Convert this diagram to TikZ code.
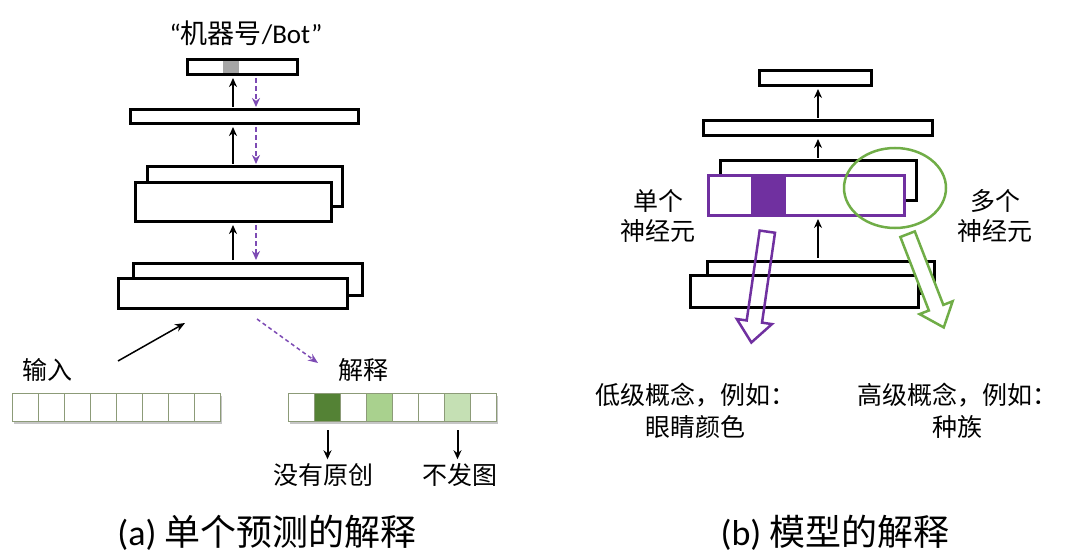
\documentclass[tikz,border=0pt]{standalone}
\usepackage{fontspec}
\setmainfont{Noto Sans CJK SC}
\newfontfamily\latin{Carlito}
\usetikzlibrary{arrows.meta,shapes.geometric,shapes.arrows,shadows}
\definecolor{plum}{RGB}{112,48,160}
\definecolor{lilac}{RGB}{125,75,180}
\definecolor{fern}{RGB}{112,173,71}
\definecolor{moss}{RGB}{84,130,53}
\definecolor{sage}{RGB}{169,209,142}
\definecolor{mint}{RGB}{197,224,180}
\definecolor{rim}{RGB}{140,155,120}
\definecolor{fog}{RGB}{166,166,166}
\tikzset{
  >={Stealth[length=9pt,width=8pt]},
  slab/.style={draw=#1,line width=3pt,fill=white,inner sep=0pt},
  slab/.default=black,
  flow/.style={->,line width=2pt,draw=black,shorten <=1.5pt,shorten >=1.5pt},
  probe/.style={->,line width=2pt,draw=lilac,dash pattern=on 5pt off 3pt,
    shorten <=1.5pt,shorten >=1.5pt},
  pointer/.style={->,line width=2pt},
  cell/.style={draw=rim,line width=0.8pt,fill=#1,minimum width=26pt,
    minimum height=28pt,inner sep=0pt},
  cell/.default=white,
  strip/.style={fill=white,minimum width=208pt,minimum height=28pt,inner sep=0pt,
    drop shadow={opacity=0.45,shadow xshift=1.5pt,shadow yshift=-3pt}},
  hollow/.style={single arrow,draw=#1,line width=2.5pt,inner sep=6.5pt,
    minimum width=33pt,single arrow head extend=10pt,single arrow tip angle=80},
  tag/.style={font=\fontsize{25}{30}\selectfont,align=center,inner sep=2pt},
  caption/.style={font=\fontsize{36}{40}\selectfont,inner sep=0pt},
}

\begin{document}
\begin{tikzpicture}[x=1pt,y=-1pt]
  \useasboundingbox (0,0) rectangle (1080,559);
  % (a) explaining one prediction
  \node[tag,font=\fontsize{27}{30}\selectfont] (bot) at (246,33) {{\latin “}机器号{\latin /Bot”}};
  \node[slab,minimum width=110pt,minimum height=15pt] (a1) at (242,67.5) {};
  \node[fill=fog,minimum width=16pt,minimum height=12pt,inner sep=0pt] (hit) at (231,67.5) {};
  \node[slab,minimum width=228pt,minimum height=14pt] (a2) at (244,117) {};
  \node[slab,minimum width=195pt,minimum height=40pt] (a3b) at (244.5,187) {};
  \node[slab,minimum width=196pt,minimum height=39pt] (a3) at (233,202.5) {};
  \node[slab,minimum width=229pt,minimum height=32pt] (a4b) at (247.5,279) {};
  \node[slab,minimum width=229pt,minimum height=30pt] (a4) at (232.5,293) {};
  \coordinate (upA) at (233,0);
  \coordinate (dnA) at (256,0);
  \draw[flow] (a2.north -| upA) -- (a1.south -| upA);
  \draw[flow] (a3b.north -| upA) -- (a2.south -| upA);
  \draw[flow] (a4b.north -| upA) -- (a3.south -| upA);
  \draw[probe] (a1.south -| dnA) -- (a2.north -| dnA);
  \draw[probe] (a2.south -| dnA) -- (a3b.north -| dnA);
  \draw[probe] (a3.south -| dnA) -- (a4b.north -| dnA);

  \node[tag] (inp) at (48,370) {输入};
  \node[tag] (expl) at (363,370) {解释};
  \coordinate (inTail) at (118,361);
  \coordinate (inHead) at (185,323);
  \coordinate (exTail) at (257,319);
  \coordinate (exHead) at (318,363);
  \draw[->,line width=1.5pt,>={Stealth[length=10pt,width=8pt]}] (inTail) -- (inHead);
  \draw[->,line width=1.5pt,draw=lilac,dash pattern=on 4pt off 3pt,
    >={Stealth[length=10pt,width=8pt]}] (exTail) -- (exHead);

  \node[strip] (inStrip) at (116,407) {};
  \foreach \i in {0,...,7}
    \node[cell] (in\i) at ({25+26*\i},407) {};
  \node[strip] (outStrip) at (392.5,407) {};
  \foreach \c [count=\i from 0] in {white,moss,white,sage,white,white,mint,white}
    \node[cell=\c] (out\i) at ({301.5+26*\i},407) {};

  \node[tag,inner sep=4pt] (noOrig) at (323,475) {没有原创};
  \node[tag,inner sep=4pt] (noPic) at (460,475) {不发图};
  \draw[pointer] ([yshift=-9pt]out1.south) -- (noOrig.north -| out1.south);
  \draw[pointer] ([yshift=-9pt]out6.south) -- (noPic.north -| out6.south);

  \node[caption] (capA) at (267,533) {{\latin (a)} 单个预测的解释};

  % (b) explaining the model
  \node[slab,minimum width=112pt,minimum height=15pt] (b1) at (815,78.5) {};
  \node[slab,minimum width=229pt,minimum height=15pt] (b2) at (817.5,128.5) {};
  \node[slab,minimum width=196pt,minimum height=40pt] (b3b) at (818,181) {};
  \node[slab=plum,minimum width=196pt,minimum height=40pt] (b3) at (806,196) {};
  \node[fill=plum,minimum width=35pt,minimum height=37pt,inner sep=0pt] (unit) at (768.5,196) {};
  \node[slab,minimum width=227pt,minimum height=32pt] (b4b) at (820.5,277) {};
  \node[slab,minimum width=228pt,minimum height=32pt] (b4) at (804,291) {};
  \coordinate (upB) at (818,0);
  \draw[flow] (b2.north -| upB) -- (b1.south -| upB);
  \draw[flow] (b3b.north -| upB) -- (b2.south -| upB);
  \draw[flow] (b4b.north -| upB) -- (b3.south -| upB);

  \node[hollow=plum,rotate=-98.2,minimum height=112pt] (lowArr) at (760,282.5) {};
  \node[hollow=fern,fill=white,rotate=-68.8,minimum height=100pt] (highArr) at (924,276.5) {};
  \node[ellipse,draw=fern,line width=2.5pt,minimum width=102pt,minimum height=80pt,
    inner sep=0pt] (group) at (895,188) {};

  \node[tag] (one) at (658,216) {单个\\神经元};
  \node[tag] (many) at (995,216) {多个\\神经元};
  \node[tag,font=\fontsize{25}{32}\selectfont] (low) at (695,411) {低级概念，例如：\\眼睛颜色};
  \node[tag,font=\fontsize{25}{32}\selectfont] (high) at (957,411) {高级概念，例如：\\种族};

  \node[caption] (capB) at (835,533) {{\latin (b)} 模型的解释};
\end{tikzpicture}
\end{document}
